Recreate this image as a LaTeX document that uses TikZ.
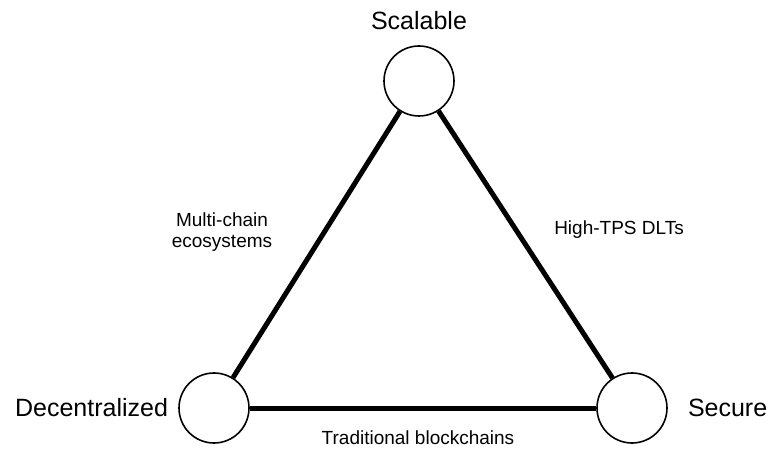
\documentclass[tikz,border=0pt]{standalone}
\usepackage{fontspec}
\setmainfont{Liberation Sans}
\usetikzlibrary{positioning}

\begin{document}
\begin{tikzpicture}[
    x=1pt,
    y=1pt,
    node distance=12pt,
    corner/.style={
        circle,
        draw,
        line width=1.6pt,
        minimum size=70pt,
        inner sep=0pt
    },
    title/.style={
        inner sep=0pt,
        font=\fontsize{25}{30}\selectfont
    },
    edgelabel/.style={
        inner sep=0pt,
        align=center,
        font=\fontsize{19}{21}\selectfont
    },
    side/.style={draw, line width=5pt}
]
\useasboundingbox (0,0) rectangle (768,450);

% Corners of the triangle
\node[corner] (scalable) at (419,369) {};
\node[corner] (decentralized) at (214,42) {};
\node[corner] (secure) at (632,42) {};

% Corner titles
\node[title, above=15pt of scalable] (scalabletxt) {Scalable};
\node[title, left=10pt of decentralized] (decentralizedtxt) {Decentralized};
\node[title, right=20pt of secure] (securetxt) {Secure};

% Sides
\draw[side] (scalable) -- (decentralized);
\draw[side] (scalable) -- (secure);
\draw[side] (decentralized) -- (secure);

% Side labels
\node[edgelabel] (multichain) at (222,218) {Multi-chain\\ecosystems};
\node[edgelabel] (hightps) at (619,220) {High-TPS DLTs};
\node[edgelabel] (traditional) at (418,12) {Traditional blockchains};

\end{tikzpicture}
\end{document}
